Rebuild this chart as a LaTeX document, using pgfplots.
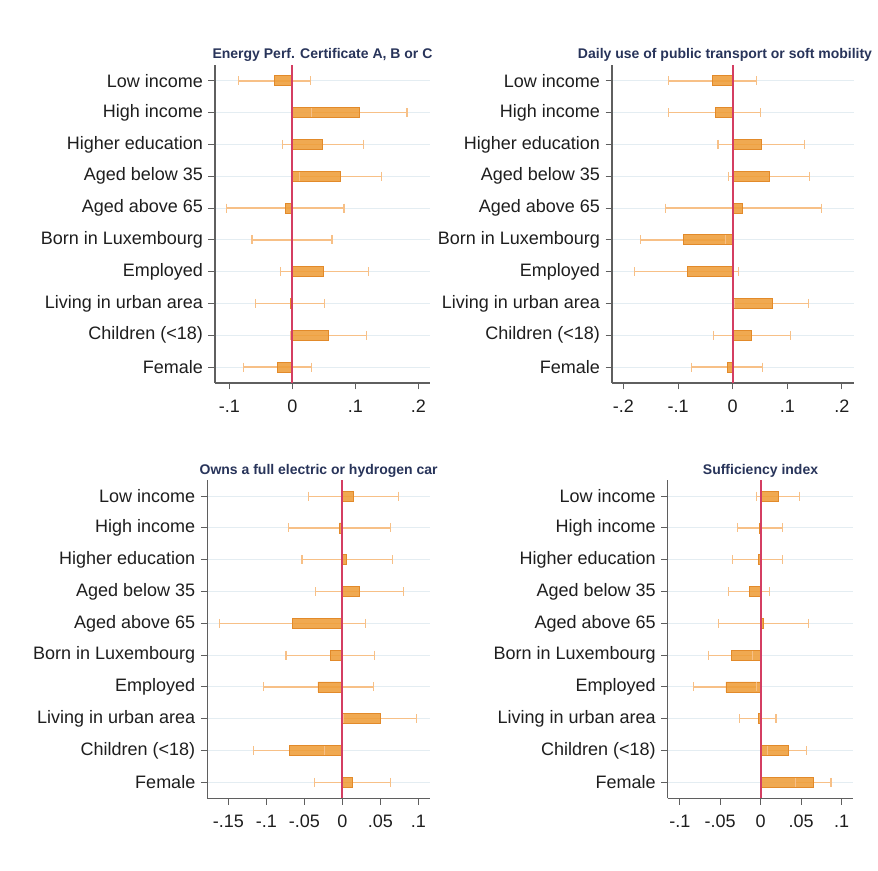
\documentclass[border=0pt]{standalone}
\usepackage{pgfplots}
\usepackage{pgfplotstable}
\pgfplotsset{compat=1.18}
\usepackage{fontspec}
\setmainfont{Liberation Sans}
\definecolor{barfill}{RGB}{239,158,58}
\definecolor{bardraw}{RGB}{226,138,42}
\definecolor{cicol}{RGB}{247,192,135}
\definecolor{zerocol}{RGB}{212,62,98}
\definecolor{gridcol}{RGB}{228,237,242}
\definecolor{axiscol}{RGB}{95,95,95}
\definecolor{titlecol}{RGB}{40,52,90}
\definecolor{textcol}{RGB}{30,30,30}

\pgfplotstableread{
y b
10 -0.028
9 0.106
8 0.048
7 0.077
6 -0.011
5 -0.001
4 0.050
3 -0.003
2 0.057
1 -0.023
}\tabA
\pgfplotstableread{
y b
10 -0.037
9 -0.032
8 0.052
7 0.067
6 0.018
5 -0.090
4 -0.083
3 0.072
2 0.035
1 -0.010
}\tabB
\pgfplotstableread{
y b
10 0.015
9 -0.004
8 0.006
7 0.023
6 -0.065
5 -0.015
4 -0.032
3 0.050
2 -0.070
1 0.013
}\tabC
\pgfplotstableread{
y b
10 0.022
9 -0.001
8 -0.003
7 -0.014
6 0.003
5 -0.036
4 -0.043
3 -0.003
2 0.034
1 0.065
}\tabD

\pgfplotsset{
  coefpanel/.style={
    scale only axis,
    height=318pt,
    ymin=0.5, ymax=10.5,
    enlargelimits=false,
    axis x line*=bottom,
    axis y line*=left,
    axis line style={axiscol, line width=1.3pt},
    tick align=outside,
    major tick length=6.5pt,
    tick style={axiscol, line width=1pt},
    ytick={1,...,10},
    yticklabels={Female,Children (<18),Living in urban area,Employed,Born in Luxembourg,Aged above 65,Aged below 35,Higher education,High income,Low income},
    ymajorgrids=true,
    grid style={gridcol, line width=1pt},
    ticklabel style={font=\fontsize{18}{20}\selectfont, text=textcol},
    yticklabel style={xshift=-2pt},
    xticklabel style={yshift=-7pt},
    title style={font=\bfseries\fontsize{14}{16}\selectfont, text=titlecol, at={(0.5,1)}, anchor=base, yshift=0pt},
    clip=false,
    unbounded coords=jump,
  },
  ciplot/.style={cicol, line width=1.3pt, mark=|, mark size=4.5pt, mark options={cicol, line width=1.1pt}},
  barplot/.style={xbar, bar width=10pt, fill=barfill, draw=bardraw, line width=0.8pt, fill opacity=0.88},
}

\begin{document}
\begin{tikzpicture}
\useasboundingbox (0pt,0pt) rectangle (878pt,870pt);
\fill[white] (0pt,0pt) rectangle (878pt,870pt);

% Panel 1
\begin{axis}[coefpanel, at={(215pt,487pt)}, anchor=south west, width=215pt,
  xmin=-0.1228, xmax=0.2185, xtick={-0.1,0,0.1,0.2}, xticklabels={-.1,0,.1,.2},
  title={Energy Perf. Certificate A, B or C}]
\addplot[ciplot] coordinates {
(-0.085,10) (0.029,10) (nan,nan)
(0.031,9) (0.182,9) (nan,nan)
(-0.016,8) (0.113,8) (nan,nan)
(0.011,7) (0.141,7) (nan,nan)
(-0.105,6) (0.082,6) (nan,nan)
(-0.064,5) (0.063,5) (nan,nan)
(-0.019,4) (0.121,4) (nan,nan)
(-0.059,3) (0.051,3) (nan,nan)
(-0.003,2) (0.118,2) (nan,nan)
(-0.077,1) (0.030,1)};
\addplot[barplot] table[x=b, y=y] {\tabA};
\addplot[zerocol, line width=2pt, mark=none] coordinates {(0,0.5) (0,10.5)};
\end{axis}

% Panel 2
\begin{axis}[coefpanel, at={(612pt,487pt)}, anchor=south west, width=242pt,
  xmin=-0.221, xmax=0.222, xtick={-0.2,-0.1,0,0.1,0.2}, xticklabels={-.2,-.1,0,.1,.2},
  title={Daily use of public transport or soft mobility},
  title style={xshift=-8pt}]
\addplot[ciplot] coordinates {
(-0.118,10) (0.044,10) (nan,nan)
(-0.118,9) (0.051,9) (nan,nan)
(-0.027,8) (0.132,8) (nan,nan)
(-0.007,7) (0.140,7) (nan,nan)
(-0.123,6) (0.162,6) (nan,nan)
(-0.169,5) (-0.014,5) (nan,nan)
(-0.179,4) (0.011,4) (nan,nan)
(0.004,3) (0.139,3) (nan,nan)
(-0.036,2) (0.106,2) (nan,nan)
(-0.076,1) (0.054,1)};
\addplot[barplot] table[x=b, y=y] {\tabB};
\addplot[zerocol, line width=2pt, mark=none] coordinates {(0,0.5) (0,10.5)};
\end{axis}

% Panel 3
\begin{axis}[coefpanel, at={(207.3pt,71.7pt)}, anchor=south west, width=222.7pt,
  xmin=-0.1776, xmax=0.1154, xtick={-0.15,-0.1,-0.05,0,0.05,0.1}, xticklabels={-.15,-.1,-.05,0,.05,.1},
  title={Owns a full electric or hydrogen car}]
\addplot[ciplot] coordinates {
(-0.044,10) (0.074,10) (nan,nan)
(-0.071,9) (0.063,9) (nan,nan)
(-0.053,8) (0.066,8) (nan,nan)
(-0.035,7) (0.080,7) (nan,nan)
(-0.162,6) (0.031,6) (nan,nan)
(-0.074,5) (0.042,5) (nan,nan)
(-0.104,4) (0.041,4) (nan,nan)
(0.002,3) (0.098,3) (nan,nan)
(-0.117,2) (-0.023,2) (nan,nan)
(-0.037,1) (0.064,1)};
\addplot[barplot] table[x=b, y=y] {\tabC};
\addplot[zerocol, line width=2pt, mark=none] coordinates {(0,0.5) (0,10.5)};
\end{axis}

% Panel 4
\begin{axis}[coefpanel, at={(667.7pt,71.7pt)}, anchor=south west, width=185.6pt,
  xmin=-0.115, xmax=0.1146, xtick={-0.1,-0.05,0,0.05,0.1}, xticklabels={-.1,-.05,0,.05,.1},
  title={Sufficiency index}]
\addplot[ciplot] coordinates {
(-0.005,10) (0.048,10) (nan,nan)
(-0.029,9) (0.027,9) (nan,nan)
(-0.035,8) (0.027,8) (nan,nan)
(-0.040,7) (0.011,7) (nan,nan)
(-0.052,6) (0.059,6) (nan,nan)
(-0.064,5) (-0.010,5) (nan,nan)
(-0.083,4) (-0.005,4) (nan,nan)
(-0.026,3) (0.019,3) (nan,nan)
(0.009,2) (0.057,2) (nan,nan)
(0.043,1) (0.087,1)};
\addplot[barplot] table[x=b, y=y] {\tabD};
\addplot[zerocol, line width=2pt, mark=none] coordinates {(0,0.5) (0,10.5)};
\end{axis}
\end{tikzpicture}
\end{document}
